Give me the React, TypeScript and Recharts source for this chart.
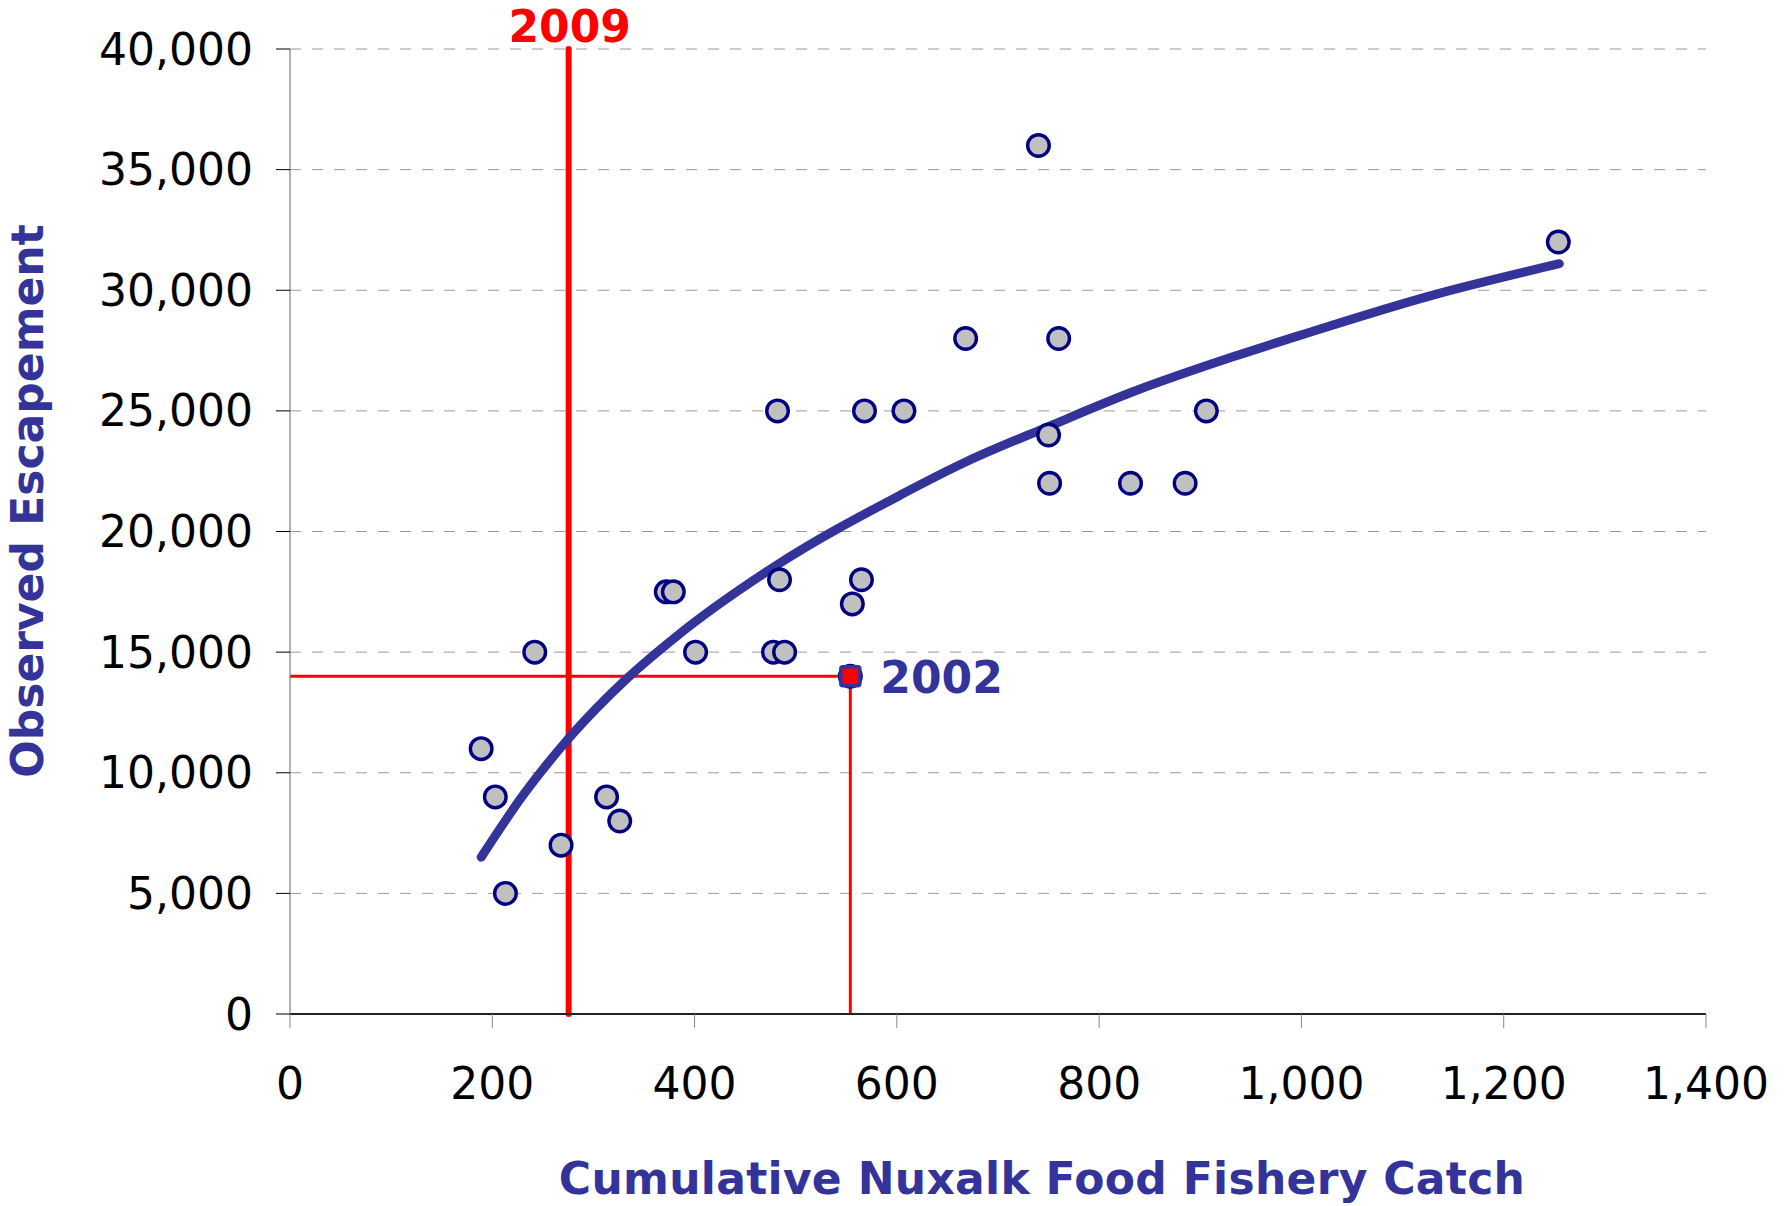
import React from 'react';
import {
  ComposedChart,
  XAxis,
  YAxis,
  CartesianGrid,
  Line,
  Scatter,
  ReferenceLine,
} from 'recharts';

// ---- data ----
const xTicks = [0, 200, 400, 600, 800, 1000, 1200, 1400];
const yTicks = [0, 5000, 10000, 15000, 20000, 25000, 30000, 35000, 40000];

const observedCatch = [
  189, 203, 213, 242, 268, 313, 326, 372, 379, 401, 478, 489, 482, 484,
  556, 565, 554, 568, 607, 668, 740, 750, 751, 760, 831, 885, 906, 1254,
];
const observedEscapement = [
  11000, 9000, 5000, 15000, 7000, 9000, 8000, 17500, 17500, 15000, 15000, 15000, 25000, 18000,
  17000, 18000, 14000, 25000, 25000, 28000, 36000, 24000, 22000, 28000, 22000, 22000, 25000, 32000,
];

const trendCatch = [189, 231, 274, 333, 382, 481, 603, 669, 750, 834, 933, 1000, 1130, 1255];
const trendEscapement = [
  6500, 9100, 11350, 13900, 15650, 18600, 21500, 22900, 24350, 25800, 27250, 28150, 29800, 31100,
];

const highlightYear = '2002';
const highlightCatch = 554;
const highlightEscapement = 14000;

const forecastYear = '2009';
const forecastCatch = 275.5;

const observedData = observedCatch.map((x, i) => ({ x, y: observedEscapement[i] }));
const trendData = trendCatch.map((x, i) => ({ x, y: trendEscapement[i] }));
const highlightData = [{ x: highlightCatch, y: highlightEscapement }];

const FONT = '"DejaVu Sans", Verdana, sans-serif';
const BLUE = '#333399';

const fmt = (v: number) => v.toLocaleString('en-US');

const CircleMarker = (p: any) => (
  <ellipse cx={p.cx} cy={p.cy} rx={10.8} ry={10.8} fill="#C0C0C0" stroke="#000080" strokeWidth={3.4} />
);

const SquareMarker = (p: any) => (
  <g>
    <rect x={p.cx - 9.5} y={p.cy - 9.5} width={19} height={19} rx={2} fill="#FF0000" stroke={BLUE} strokeWidth={3.5} />
    <text x={p.cx + 30} y={p.cy + 17} fill={BLUE} fontSize={44} fontWeight="bold" fontFamily={FONT}>
      {highlightYear}
    </text>
  </g>
);

export default function App() {
  return (
    <div style={{ position: 'fixed', left: 0, top: 0, width: 1792, height: 1206, background: '#fff' }}>
      <ComposedChart
        width={1792}
        height={1206}
        margin={{ top: 49, right: 86, bottom: 0, left: 0 }}
      >
        <CartesianGrid vertical={false} stroke="#9A9A9A" strokeDasharray="11 11" />
        <XAxis
          type="number"
          dataKey="x"
          domain={[0, 1400]}
          ticks={xTicks}
          interval={0}
          height={192}
          tickSize={14}
          tickMargin={40}
          tickFormatter={fmt}
          tick={{ fontSize: 44, fill: '#000', fontFamily: FONT }}
          axisLine={{ stroke: '#222', strokeWidth: 2 }}
          tickLine={{ stroke: '#888', strokeWidth: 1 }}
          label={(props: any) => {
            const vb = props.viewBox;
            return (
              <text
                x={vb.x + vb.width / 2 + 44}
                y={vb.y + 180}
                textAnchor="middle"
                fill={BLUE}
                fontSize={44}
                fontWeight="bold"
                letterSpacing={0.3}
                fontFamily={FONT}
              >
                Cumulative Nuxalk Food Fishery Catch
              </text>
            );
          }}
        />
        <YAxis
          type="number"
          domain={[0, 40000]}
          ticks={yTicks}
          interval={0}
          width={290}
          tickSize={14}
          tickMargin={23}
          tickFormatter={fmt}
          tick={{ fontSize: 44, fill: '#000', fontFamily: FONT }}
          axisLine={{ stroke: '#666', strokeWidth: 1 }}
          tickLine={{ stroke: '#000', strokeWidth: 1 }}
          label={(props: any) => {
            const vb = props.viewBox;
            const cx = vb.x + 43;
            const cy = vb.y + 452;
            return (
              <text
                x={cx}
                y={cy}
                transform={`rotate(-90 ${cx} ${cy})`}
                textAnchor="middle"
                fill={BLUE}
                fontSize={44}
                fontWeight="bold"
                fontFamily={FONT}
              >
                Observed Escapement
              </text>
            );
          }}
        />
        <ReferenceLine
          segment={[{ x: 0, y: highlightEscapement }, { x: highlightCatch, y: highlightEscapement }]}
          stroke="#FF0000"
          strokeWidth={3}
        />
        <ReferenceLine
          segment={[{ x: highlightCatch, y: 0 }, { x: highlightCatch, y: highlightEscapement }]}
          stroke="#FF0000"
          strokeWidth={3}
        />
        <ReferenceLine
          x={forecastCatch}
          stroke="#FF0000"
          strokeWidth={6}
          strokeLinecap="round"
          label={(props: any) => {
            const vb = props.viewBox;
            return (
              <text
                x={vb.x + 1}
                y={vb.y - 7}
                textAnchor="middle"
                fill="#FF0000"
                fontSize={44}
                fontWeight="bold"
                fontFamily={FONT}
              >
                {forecastYear}
              </text>
            );
          }}
        />
        <Line
          data={trendData}
          dataKey="y"
          type="monotone"
          stroke={BLUE}
          strokeWidth={9}
          strokeLinecap="round"
          dot={false}
          activeDot={false}
          isAnimationActive={false}
        />
        <Scatter data={observedData} dataKey="y" shape={CircleMarker} isAnimationActive={false} />
        <Scatter data={highlightData} dataKey="y" shape={SquareMarker} isAnimationActive={false} />
      </ComposedChart>
    </div>
  );
}
